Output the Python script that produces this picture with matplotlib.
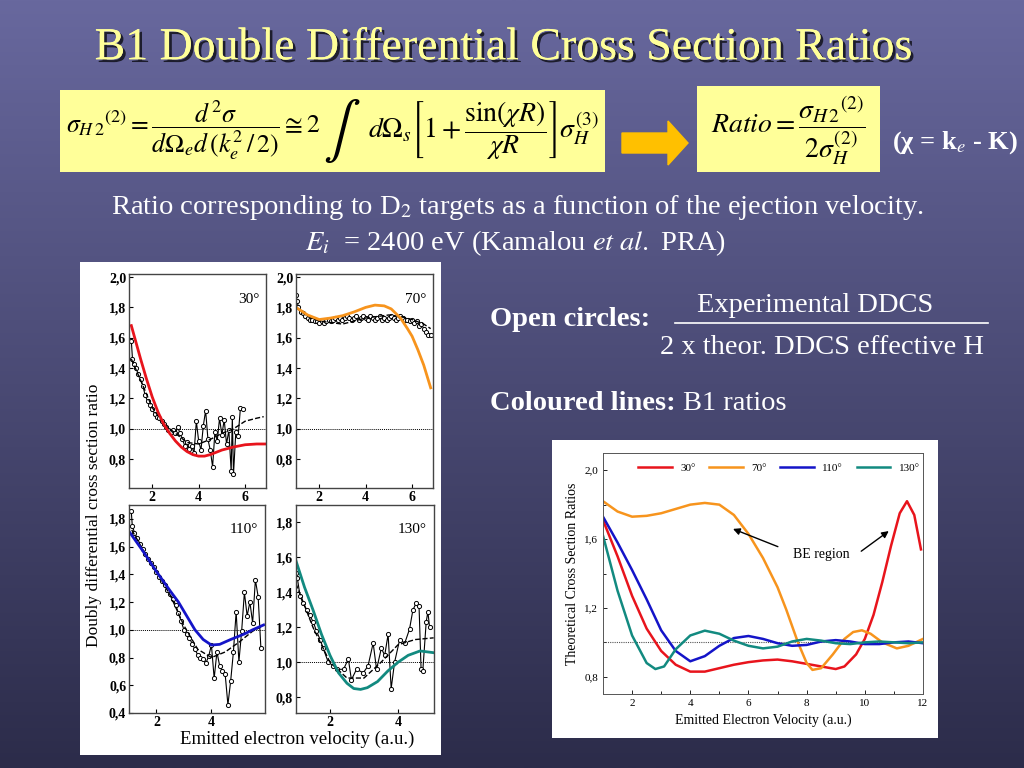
import numpy as np
import matplotlib
matplotlib.use("Agg")
import matplotlib.pyplot as plt
import matplotlib.patheffects as pe
from matplotlib.patches import Rectangle, FancyArrow
from matplotlib.ticker import FuncFormatter, MultipleLocator

plt.rcParams['mathtext.fontset'] = 'stix'
plt.rcParams['font.family'] = 'Liberation Serif'

# ---------------- donnees ----------------
# panneau gauche : rapports experimentaux / theoriques (Kamalou et al.)
exp30_x = [1.1, 1.15, 1.2, 1.3, 1.4, 1.5, 1.6, 1.7, 1.8, 1.9, 2.0, 2.1, 2.2, 2.3, 2.4, 2.5,
           2.6, 2.7, 2.8, 2.9, 3.0, 3.1, 3.2, 3.3, 3.4, 3.5, 3.6, 3.7, 3.8, 3.9, 4.0, 4.1,
           4.2, 4.3, 4.4, 4.5, 4.6, 4.7, 4.8, 4.9, 5.0, 5.1, 5.2, 5.3, 5.4, 5.45, 5.5, 5.6,
           5.7, 5.8, 5.9]
exp30_y = [1.58, 1.46, 1.43, 1.40, 1.36, 1.33, 1.28, 1.22, 1.18, 1.16, 1.13, 1.10, 1.08, 1.07,
           1.05, 1.03, 1.01, 0.99, 0.98, 0.99, 0.97, 1.01, 0.97, 0.93, 0.89, 0.91, 0.87, 0.89,
           0.84, 1.05, 0.92, 0.86, 1.02, 1.12, 0.93, 0.86, 0.75, 0.98, 0.92, 1.07, 0.96, 1.06,
           0.90, 0.99, 0.72, 1.08, 0.70, 0.98, 0.95, 1.14, 1.13]
dash30_x = [1.1, 1.5, 2.0, 2.5, 3.0, 3.5, 4.0, 4.5, 5.0, 5.5, 6.0, 6.5, 6.8]
dash30_y = [1.46, 1.32, 1.14, 1.03, 0.97, 0.91, 0.90, 0.93, 0.97, 1.00, 1.05, 1.07, 1.08]
b1_30_x = [1.1, 1.3, 1.5, 1.75, 2.0, 2.25, 2.5, 2.75, 3.0, 3.25, 3.5, 3.75, 4.0, 4.25, 4.5,
           5.0, 5.5, 6.0, 6.5, 6.9]
b1_30_y = [1.68, 1.57, 1.46, 1.33, 1.21, 1.11, 1.03, 0.97, 0.92, 0.88, 0.85, 0.83, 0.82, 0.82,
           0.83, 0.86, 0.88, 0.895, 0.90, 0.90]

exp70_x = [1.0, 1.05, 1.1, 1.2, 1.3, 1.4, 1.5, 1.6, 1.7, 1.8, 1.9, 2.0, 2.1, 2.2, 2.3, 2.4,
           2.5, 2.6, 2.7, 2.8, 2.9, 3.0, 3.1, 3.2, 3.3, 3.4, 3.5, 3.6, 3.7, 3.8, 3.9, 4.0,
           4.1, 4.2, 4.3, 4.4, 4.5, 4.6, 4.7, 4.8, 4.9, 5.0, 5.1, 5.2, 5.3, 5.4, 5.5, 5.6,
           5.7, 5.8, 5.9, 6.0, 6.1, 6.2, 6.3, 6.4, 6.5, 6.6, 6.7, 6.8]
exp70_y = [1.88, 1.84, 1.80, 1.77, 1.76, 1.74, 1.73, 1.72, 1.72, 1.71, 1.71, 1.70, 1.71, 1.70,
           1.71, 1.72, 1.71, 1.72, 1.73, 1.72, 1.73, 1.72, 1.73, 1.74, 1.73, 1.72, 1.73, 1.74,
           1.72, 1.73, 1.74, 1.73, 1.72, 1.74, 1.73, 1.72, 1.73, 1.74, 1.72, 1.73, 1.72, 1.73,
           1.74, 1.73, 1.72, 1.73, 1.74, 1.73, 1.72, 1.72, 1.71, 1.72, 1.70, 1.71, 1.68, 1.69,
           1.66, 1.64, 1.62, 1.62]
dash70_x = [1.0, 1.5, 2.0, 2.5, 3.0, 3.5, 4.0, 4.5, 5.0, 5.5, 6.0, 6.5, 6.8]
dash70_y = [1.80, 1.74, 1.71, 1.70, 1.69, 1.71, 1.73, 1.74, 1.75, 1.74, 1.72, 1.69, 1.66]
b1_70_x = [1.0, 1.5, 2.0, 2.5, 3.0, 3.5, 4.0, 4.4, 4.8, 5.1, 5.5, 5.8, 6.0, 6.25, 6.5, 6.8]
b1_70_y = [1.80, 1.75, 1.72, 1.73, 1.745, 1.77, 1.80, 1.815, 1.81, 1.79, 1.73, 1.66, 1.61, 1.52,
           1.42, 1.27]

exp110_x = [1.08, 1.12, 1.2, 1.3, 1.4, 1.5, 1.6, 1.7, 1.8, 1.9, 2.0, 2.1, 2.2, 2.3, 2.4, 2.5,
            2.6, 2.7, 2.8, 2.9, 3.0, 3.1, 3.2, 3.3, 3.4, 3.5, 3.6, 3.7, 3.8, 3.9, 4.0, 4.1,
            4.2, 4.3, 4.4, 4.5, 4.6, 4.7, 4.8, 4.9, 5.0, 5.1, 5.2, 5.3, 5.4, 5.5, 5.6, 5.7, 5.8]
exp110_y = [1.86, 1.75, 1.70, 1.66, 1.62, 1.58, 1.55, 1.51, 1.48, 1.45, 1.42, 1.38, 1.35, 1.32,
            1.29, 1.26, 1.22, 1.18, 1.12, 1.06, 1.00, 0.97, 0.94, 0.90, 0.86, 0.82, 0.80, 0.79,
            0.76, 0.81, 0.89, 0.65, 0.84, 0.74, 0.70, 0.68, 0.46, 0.63, 0.84, 1.13, 0.77, 0.99,
            1.27, 1.10, 1.20, 1.05, 1.36, 1.24, 0.87]
dash110_x = [1.1, 1.5, 2.0, 2.5, 3.0, 3.5, 4.0, 4.5, 5.0, 5.5, 5.8]
dash110_y = [1.72, 1.58, 1.42, 1.25, 1.03, 0.86, 0.80, 0.84, 0.91, 0.99, 1.02]
b1_110_x = [1.0, 1.5, 2.0, 2.5, 2.8, 3.1, 3.4, 3.7, 4.0, 4.3, 4.7, 5.2, 5.5, 5.9]
b1_110_y = [1.71, 1.57, 1.42, 1.28, 1.20, 1.10, 1.00, 0.93, 0.89, 0.895, 0.93, 0.97, 1.00, 1.035]

exp130_x = [1.0, 1.04, 1.12, 1.2, 1.32, 1.4, 1.51, 1.6, 1.71, 1.8, 1.95, 2.1, 2.2, 2.4, 2.54,
            2.63, 2.78, 2.98, 3.12, 3.27, 3.37, 3.51, 3.61, 3.71, 3.8, 3.9, 4.05, 4.2, 4.34,
            4.44, 4.54, 4.62, 4.68, 4.73, 4.83, 4.88, 4.93]
exp130_y = [1.51, 1.48, 1.38, 1.34, 1.30, 1.27, 1.23, 1.18, 1.13, 1.08, 1.00, 0.98, 0.96, 0.96,
            1.02, 0.90, 0.96, 0.94, 0.98, 1.11, 0.96, 1.08, 1.04, 1.16, 0.85, 1.00, 1.13, 1.11,
            1.19, 1.30, 1.34, 1.32, 0.96, 0.95, 1.23, 1.29, 1.20]
dash130_x = [1.0, 1.5, 2.0, 2.5, 3.0, 3.5, 4.0, 4.5, 5.05]
dash130_y = [1.45, 1.20, 1.00, 0.91, 0.91, 1.00, 1.10, 1.13, 1.14]
b1_130_x = [1.0, 1.25, 1.5, 1.75, 2.0, 2.25, 2.5, 2.7, 2.9, 3.1, 3.4, 3.7, 4.0, 4.3, 4.65, 5.05]
b1_130_y = [1.58, 1.43, 1.30, 1.16, 1.04, 0.94, 0.88, 0.85, 0.845, 0.855, 0.89, 0.95, 1.00,
            1.04, 1.065, 1.055]

# panneau droit : rapports B1 theoriques jusqu'a 12 u.a.
th_x30 = [1.0, 1.5, 2.0, 2.5, 3.0, 3.5, 4.0, 4.5, 5.0, 5.5, 6.0, 6.5, 7.0, 7.5, 8.0, 8.5, 9.0,
          9.3, 9.7, 10.0, 10.3, 10.6, 10.9, 11.2, 11.45, 11.7, 11.93]
th_y30 = [1.71, 1.50, 1.27, 1.08, 0.95, 0.87, 0.83, 0.83, 0.85, 0.87, 0.885, 0.895, 0.90, 0.89,
          0.875, 0.86, 0.845, 0.86, 0.93, 1.02, 1.16, 1.35, 1.56, 1.75, 1.82, 1.74, 1.54]
th_x70 = [1.0, 1.5, 2.0, 2.5, 3.0, 3.5, 4.0, 4.5, 5.0, 5.5, 6.0, 6.5, 7.0, 7.3, 7.7, 8.0, 8.2,
          8.5, 8.9, 9.3, 9.6, 9.9, 10.2, 10.6, 11.1, 11.5, 12.0]
th_y70 = [1.82, 1.76, 1.73, 1.735, 1.75, 1.775, 1.80, 1.81, 1.80, 1.74, 1.63, 1.49, 1.32, 1.19,
          1.00, 0.88, 0.84, 0.85, 0.93, 1.02, 1.06, 1.07, 1.05, 1.00, 0.965, 0.98, 1.02]
th_x110 = [1.0, 1.5, 2.0, 2.5, 3.0, 3.5, 4.0, 4.5, 5.0, 5.5, 6.0, 6.5, 7.0, 7.5, 8.0, 8.5, 9.0,
           9.5, 10.0, 10.5, 11.0, 11.5, 12.0]
th_y110 = [1.73, 1.58, 1.42, 1.25, 1.07, 0.95, 0.89, 0.92, 0.98, 1.025, 1.037, 1.02, 0.995, 0.98,
           0.985, 1.005, 1.013, 1.005, 0.99, 0.99, 1.00, 1.005, 0.995]
th_x130 = [1.0, 1.5, 2.0, 2.5, 2.8, 3.1, 3.5, 4.0, 4.5, 5.0, 5.5, 6.0, 6.5, 7.0, 7.5, 8.0, 8.5,
           9.0, 9.5, 10.0, 10.5, 11.0, 11.5, 12.0]
th_y130 = [1.62, 1.30, 1.04, 0.88, 0.845, 0.86, 0.96, 1.04, 1.068, 1.05, 1.01, 0.98, 0.965, 0.975,
           1.005, 1.02, 1.01, 0.995, 0.99, 1.00, 1.005, 1.00, 0.995, 1.00]

angles = ["30°", "70°", "110°", "130°"]
couleurs = ["#e8141c", "#f7941d", "#1414c8", "#128a80"]

# ---------------- figure ----------------
fig = plt.figure(figsize=(10.24, 7.68), dpi=100)

def rect(x0, y0, x1, y1):
    # position en pixels (origine en haut a gauche) -> coordonnees figure
    return [x0 / 1024, 1 - y1 / 768, (x1 - x0) / 1024, (y1 - y0) / 768]

# fond degrade
bg = fig.add_axes([0, 0, 1, 1])
grad = np.linspace(0, 1, 256).reshape(-1, 1)
haut = np.array([104, 104, 158]) / 255
bas = np.array([44, 44, 74]) / 255
img = haut + (bas - haut) * grad[:, :, None]
bg.imshow(img, extent=(0, 1024, 768, 0), aspect='auto')
bg.set_xlim(0, 1024)
bg.set_ylim(768, 0)
bg.axis('off')

# titre
bg.text(504, 48, "B1 Double Differential Cross Section Ratios", color='#ffff99',
        fontsize=33, ha='center', va='center',
        path_effects=[pe.withSimplePatchShadow(offset=(2, -2), shadow_rgbFace='black', alpha=0.7),
                      pe.Normal()])

# formules
bg.add_patch(Rectangle((60, 90), 545, 82, facecolor='#ffff99', edgecolor='none'))
bg.text(66, 131, r"$\sigma_{H\,2}{}^{(2)} = \dfrac{d^2\sigma}{d\Omega_e d\,(k_e^2\,/\,2)}"
        r" \cong 2$", fontsize=18.5, ha='left', va='center', color='black')
bg.text(323, 131, r"$\int$", fontsize=40, ha='left', va='center', color='black')
bg.text(368, 131, r"$d\Omega_s\left[1+\dfrac{\sin(\chi R)}{\chi R}\right]\sigma_H^{(3)}$",
        fontsize=20, ha='left', va='center', color='black')
bg.add_patch(FancyArrow(622, 143, 66, 0, width=20, head_width=44, head_length=20,
                        length_includes_head=True, color='#ffc000'))
bg.add_patch(Rectangle((697, 86), 183, 86, facecolor='#ffff99', edgecolor='none'))
bg.text(788, 130, r"$Ratio = \dfrac{\sigma_{H\,2}{}^{(2)}}{2\sigma_H^{(2)}}$",
        fontsize=20, ha='center', va='center', color='black')
bg.text(955, 143, r"(χ = k$_e$ - K)", fontsize=19, fontweight='bold', ha='center',
        va='center', color='white')

# texte
bg.text(517, 208, r"Ratio corresponding to D$_2$ targets as a function of the ejection velocity.",
        fontsize=20.5, ha='center', va='center', color='white')
bg.text(515, 243, r"$E_i$  = 2400 eV (Kamalou $et\ al.$ PRA)",
        fontsize=20.5, ha='center', va='center', color='white')
bg.text(490, 320, "Open circles:", fontsize=20.5, fontweight='bold', ha='left', va='center',
        color='white')
bg.text(815, 306, "Experimental DDCS", fontsize=20.5, ha='center', va='center', color='white')
bg.plot([675, 988], [323, 323], color='white', lw=1.2)
bg.text(822, 347, "2 x theor. DDCS effective H", fontsize=20.5, ha='center', va='center',
        color='white')
bg.text(490, 404, "Coloured lines:", fontsize=20.5, fontweight='bold', ha='left', va='center',
        color='white')
bg.text(683, 404, "B1 ratios", fontsize=20.5, ha='left', va='center', color='white')

# fonds blancs des deux images
bg.add_patch(Rectangle((80, 262), 361, 493, facecolor='white', edgecolor='none'))
bg.add_patch(Rectangle((552, 440), 386, 298, facecolor='white', edgecolor='none'))

virgule = FuncFormatter(lambda v, p: f"{v:.1f}".replace('.', ','))

# ---------------- panneau gauche : 4 graphes ----------------
panneaux = [
    (rect(129, 274, 266, 488), exp30_x, exp30_y, dash30_x, dash30_y, b1_30_x, b1_30_y,
     (1.0, 6.9), (0.61, 2.02), angles[0], couleurs[0]),
    (rect(296, 274, 433, 488), exp70_x, exp70_y, dash70_x, dash70_y, b1_70_x, b1_70_y,
     (1.0, 6.9), (0.61, 2.02), angles[1], couleurs[1]),
    (rect(129, 505, 265, 713), exp110_x, exp110_y, dash110_x, dash110_y, b1_110_x, b1_110_y,
     (1.0, 5.95), (0.4, 1.9), angles[2], couleurs[2]),
    (rect(296, 505, 434, 713), exp130_x, exp130_y, dash130_x, dash130_y, b1_130_x, b1_130_y,
     (1.0, 5.06), (0.71, 1.9), angles[3], couleurs[3]),
]
for pos, ex, ey, dx, dy, bx, by, xl, yl, ang, c in panneaux:
    ax = fig.add_axes(pos)
    ax.axhline(1.0, color='black', lw=0.7, ls=(0, (1, 1)))
    ax.plot(ex, ey, color='black', lw=0.8, marker='o', ms=3, mfc='white', mec='black', mew=0.7)
    ax.plot(dx, dy, color='black', lw=1.0, ls='--')
    ax.plot(bx, by, color=c, lw=2)
    ax.set_xlim(*xl)
    ax.set_ylim(*yl)
    ax.xaxis.set_major_locator(MultipleLocator(2))
    ax.yaxis.set_major_locator(MultipleLocator(0.2))
    ax.yaxis.set_major_formatter(virgule)
    ax.tick_params(direction='in', length=3, labelsize=10, width=0.8, pad=2)
    for lab in ax.get_xticklabels() + ax.get_yticklabels():
        lab.set_fontweight('bold')
    for s in ax.spines.values():
        s.set_linewidth(1.0)
        s.set_color('#444444')
    ax.text(0.95, 0.88, ang, transform=ax.transAxes, ha='right', va='center', fontsize=11)

bg.text(94, 515, "Doubly differential cross section ratio", rotation=90, fontsize=12.5,
        ha='center', va='center', color='black')
bg.text(297, 739, "Emitted electron velocity (a.u.)", fontsize=13.5, ha='center', va='center',
        color='black')

# ---------------- panneau droit ----------------
ax = fig.add_axes(rect(603, 453, 923, 694))
ax.axhline(1.0, color='#555555', lw=0.8, ls=(0, (1, 1)))
for xs, ys, c, a in [(th_x30, th_y30, couleurs[0], angles[0]),
                     (th_x70, th_y70, couleurs[1], angles[1]),
                     (th_x110, th_y110, couleurs[2], angles[2]),
                     (th_x130, th_y130, couleurs[3], angles[3])]:
    ax.plot(xs, ys, color=c, lw=1.8, label=a)
ax.set_xlim(1.0, 12.0)
ax.set_ylim(0.7, 2.1)
ax.xaxis.set_major_locator(MultipleLocator(2))
ax.yaxis.set_major_locator(MultipleLocator(0.4))
ax.yaxis.set_minor_locator(MultipleLocator(0.2))
ax.xaxis.set_minor_locator(MultipleLocator(1))
ax.yaxis.set_major_formatter(virgule)
ax.tick_params(which='both', direction='in', labelsize=8, width=0.6)
ax.tick_params(which='major', length=3)
ax.tick_params(which='minor', length=2)
for s in ax.spines.values():
    s.set_linewidth(0.7)
    s.set_color('#555555')
ax.legend(loc='upper center', ncol=4, frameon=False, fontsize=8, handlelength=3,
          columnspacing=1.2, bbox_to_anchor=(0.55, 1.0))
ax.set_xlabel("Emitted Electron Velocity (a.u.)", fontsize=10)
ax.set_ylabel("Theoretical Cross Section Ratios", fontsize=10)
ax.text(8.5, 1.51, "BE region", fontsize=10, ha='center', va='center')
ax.annotate("", xy=(5.38, 1.665), xytext=(7.1, 1.55),
            arrowprops=dict(arrowstyle='-|>', color='black', lw=1, mutation_scale=10))
ax.annotate("", xy=(10.9, 1.656), xytext=(9.8, 1.52),
            arrowprops=dict(arrowstyle='-|>', color='black', lw=1, mutation_scale=10))

fig.savefig("out.png", dpi=100)
